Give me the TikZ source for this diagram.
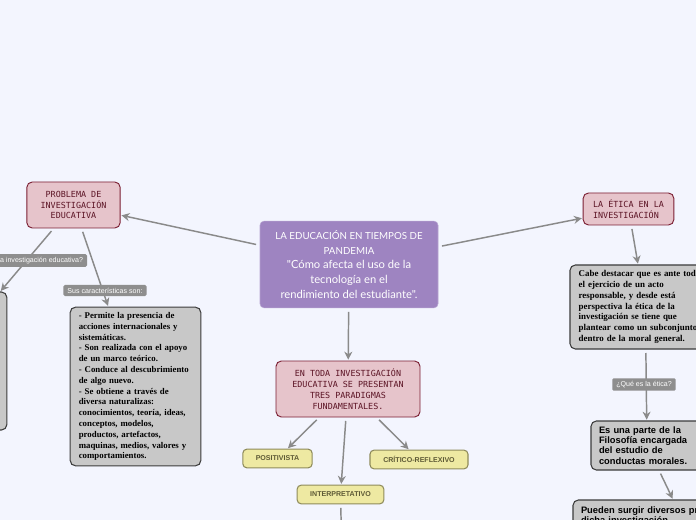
\documentclass[tikz,border=0pt]{standalone}
\usepackage{fontspec}
\setmainfont{Liberation Serif}
\newfontfamily\titlefont{Lato}
\newfontfamily\capsfont{DejaVu Sans Mono}
\newfontfamily\labelfont{Liberation Sans}
\usetikzlibrary{arrows.meta}
\definecolor{canvasbg}{HTML}{F3F5FE}
\definecolor{mainpurple}{HTML}{9E84C1}
\definecolor{topicpink}{HTML}{E6C4CB}
\definecolor{topicline}{HTML}{7B1F33}
\definecolor{topictext}{HTML}{5C1425}
\definecolor{paryellow}{HTML}{EEE9A2}
\definecolor{parline}{HTML}{8E8B5B}
\definecolor{partext}{HTML}{5E5A36}
\definecolor{notegray}{HTML}{C8C8C8}
\definecolor{noteline}{HTML}{3C3C3C}
\definecolor{taggray}{HTML}{8E8E8E}
\definecolor{linkgray}{HTML}{8A8A8A}

\begin{document}
\begin{tikzpicture}[
  x=0.75pt, y=-0.75pt,
  every node/.style={inner sep=0pt, outer sep=0pt},
  central/.style={rounded corners=3pt, fill=mainpurple, draw=mainpurple!75!white,
    text=white, align=center, minimum width=133.5pt, minimum height=65pt,
    font=\titlefont\fontsize{8.4}{11}\selectfont},
  topic/.style={rounded corners=4pt, fill=topicpink, draw=topicline, line width=0.7pt,
    text=topictext, font=\capsfont\fontsize{6.3}{8.2}\selectfont},
  paradigm/.style={rounded corners=3pt, fill=paryellow, draw=parline, line width=0.8pt,
    text=partext, minimum height=14pt, font=\labelfont\bfseries\fontsize{5.3}{6}\selectfont},
  note/.style={rounded corners=4pt, fill=notegray, draw=noteline, line width=0.8pt,
    text=black, align=left, inner xsep=6.5pt,
    font=\bfseries\fontsize{6.6}{8.1}\selectfont},
  notesans/.style={note, inner xsep=6pt, font=\labelfont\bfseries\fontsize{7}{7.6}\selectfont},
  tag/.style={rounded corners=1pt, fill=taggray, text=white, inner xsep=3pt, inner ysep=2.2pt,
    font=\labelfont\fontsize{5.3}{6}\selectfont},
  link/.style={draw=linkgray, line width=1.1pt, -{Stealth[length=6pt, width=6pt]},
    shorten <=3pt, shorten >=1pt}
]

% canvas
\useasboundingbox (0,0) rectangle (696,520);
\fill[canvasbg] (0,0) rectangle (696,520);
\clip (0,0) rectangle (696,520);

% central topic
\node[central] (tema) at (349,264.5)
  {{\fontsize{7.3}{10}\selectfont LA EDUCACIÓN EN TIEMPOS DE}\\
   {\fontsize{7.3}{10}\selectfont PANDEMIA}\\
   "Cómo afecta el uso de la\\
   tecnología en el\\
   rendimiento del estudiante".};

% main branches
\node[topic, align=center, minimum width=70pt, minimum height=34.5pt] (problema) at (73.5,205)
  {PROBLEMA DE\\INVESTIGACIÓN\\EDUCATIVA};
\node[topic, align=left, minimum width=68pt, minimum height=24pt] (etica) at (628.5,209)
  {LA ÉTICA EN LA\\INVESTIGACIÓN};
\node[topic, align=center, minimum width=108pt, minimum height=42pt] (paradigmas) at (348,389)
  {EN TODA INVESTIGACIÓN\\EDUCATIVA SE PRESENTAN\\TRES PARADIGMAS\\FUNDAMENTALES.};

% paradigms
\node[paradigm, minimum width=52pt] (positivista) at (277.5,458.5) {POSITIVISTA};
\node[paradigm, minimum width=73.5pt] (critico) at (419,459.5) {CRÍTICO-REFLEXIVO};
\node[paradigm, minimum width=65pt] (interpretativo) at (340.5,494.5) {INTERPRETATIVO};
\coordinate (abajo) at (342,560);

% notes, left side
\node[note, minimum width=98pt, minimum height=103.5pt] (definicion) at (-58.5,361) {};
\node[note, text width=85pt, minimum height=119pt] (caracteristicas) at (135.5,386.5)
  {- Permite la presencia de\\
   acciones internacionales y\\
   sistemáticas.\\
   - Son realizada con el apoyo\\
   de un marco teórico.\\
   - Conduce al descubrimiento\\
   de algo nuevo.\\
   - Se obtiene a través de\\
   diversa naturalizas:\\
   conocimientos, teoría, ideas,\\
   conceptos, modelos,\\
   productos, artefactos,\\
   maquinas, medios, valores y\\
   comportamientos.};

% notes, right side
\node[note, font=\bfseries\fontsize{6.7}{8.1}\selectfont, text width=100pt, minimum height=63pt,
  anchor=west] (acto) at (570,307)
  {Cabe destacar que es ante todo\\
   el ejercicio de un acto\\
   responsable, y desde está\\
   perspectiva la ética de la\\
   investigación se tiene que\\
   plantear como un subconjunto\\
   dentro de la moral general.};
\node[notesans, text width=72pt, minimum height=36.75pt] (filosofia) at (647,445.5)
  {Es una parte de la\\Filosofía encargada\\del estudio de\\conductas morales.};
\node[notesans, anchor=north west, text width=150pt, inner ysep=5pt] (problemas) at (573,500)
  {Pueden surgir diversos problemas en\\dicha investigación.};

% connectors
\draw[link] (tema) -- (problema);
\draw[link] (tema) -- (etica);
\draw[link] (tema) -- (paradigmas);
\draw[link] (problema) -- (definicion);
\draw[link] (problema) -- (caracteristicas);
\draw[link] (paradigmas) -- (positivista);
\draw[link] (paradigmas) -- (interpretativo);
\draw[link] (paradigmas) -- (critico);
\draw[link, -] (interpretativo) -- (abajo);
\draw[link] (etica) -- (acto);
\draw[link] (acto) -- (filosofia);
\draw[link] (filosofia) -- (problemas);

% connector labels
\node[tag, anchor=east] (tagdef) at (87,260.5) {¿Qué es la investigación educativa?};
\node[tag] (tagcar) at (105,290.5) {Sus características son:};
\node[tag] (tageti) at (644,384.5) {¿Qué es la ética?};

\end{tikzpicture}
\end{document}
